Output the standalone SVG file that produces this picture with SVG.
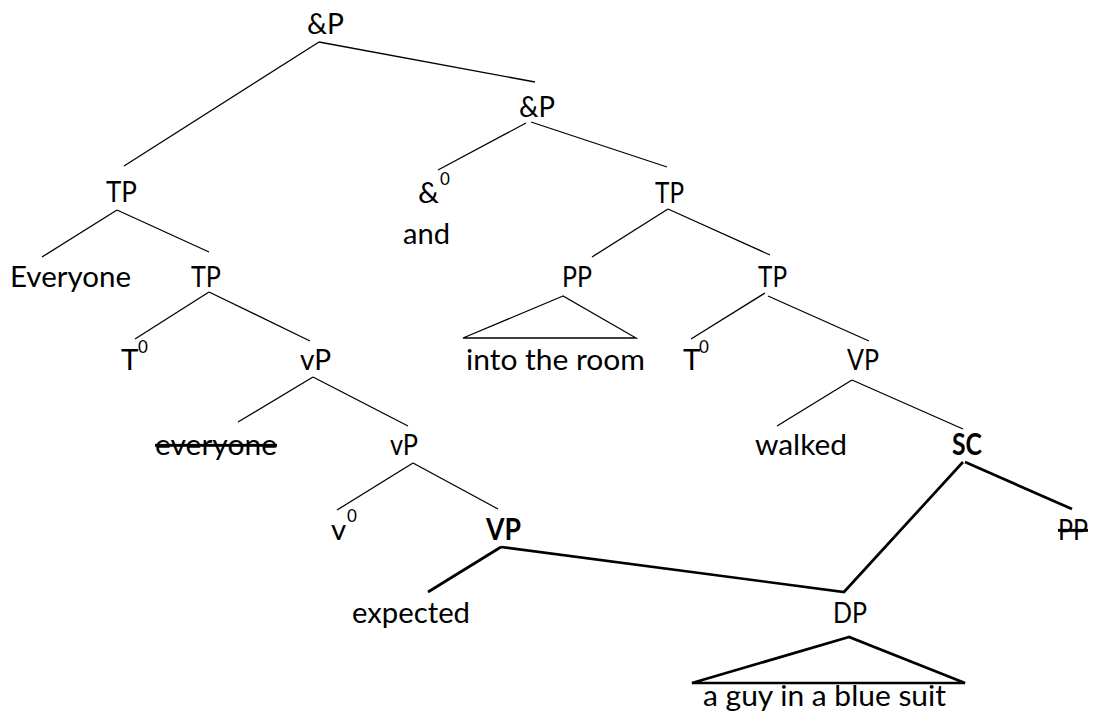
<svg xmlns="http://www.w3.org/2000/svg" width="1094" height="715" viewBox="0 0 1094 715">
<style>
  text { font-family: Lato, "Open Sans", "Liberation Sans", sans-serif; font-size: 29.5px; fill: #000; }
  .b { font-weight: bold; }
  .sup { font-size: 17px; }
  .strike { text-decoration: line-through; }
  .thin { stroke: #000; stroke-width: 1.3; fill: none; stroke-linecap: butt; }
  .thick { stroke: #000; stroke-width: 2.7; fill: none; stroke-linejoin: miter; }
</style>
<rect width="1094" height="715" fill="#fff"/>
<g id="connectors">
  <line class="thin" x1="319" y1="42" x2="124" y2="166"/>
  <line class="thin" x1="319" y1="42" x2="535" y2="82"/>
  <line class="thin" x1="526" y1="123" x2="438" y2="170"/>
  <line class="thin" x1="531" y1="122" x2="667" y2="167"/>
  <line class="thin" x1="117" y1="210" x2="42" y2="257"/>
  <line class="thin" x1="117" y1="210" x2="209" y2="252"/>
  <line class="thin" x1="209" y1="292" x2="135" y2="339"/>
  <line class="thin" x1="209" y1="292" x2="310" y2="341"/>
  <line class="thin" x1="668" y1="209" x2="592" y2="257"/>
  <line class="thin" x1="668" y1="209" x2="770" y2="255"/>
  <polygon class="thin" points="563,296 463,338 636,338"/>
  <line class="thin" x1="765" y1="293" x2="691" y2="339"/>
  <line class="thin" x1="768" y1="296" x2="869" y2="341"/>
  <line class="thin" x1="313" y1="377" x2="238" y2="422"/>
  <line class="thin" x1="313" y1="377" x2="408" y2="426"/>
  <line class="thin" x1="852" y1="380" x2="777" y2="426"/>
  <line class="thin" x1="852" y1="380" x2="963" y2="429"/>
  <line class="thin" x1="413" y1="463" x2="337" y2="510"/>
  <line class="thin" x1="413" y1="463" x2="498" y2="509"/>
  <line class="thick" x1="501" y1="547" x2="428" y2="592"/>
  <polyline class="thick" points="501,547 844,592 963,462"/>
  <line class="thick" x1="965" y1="462" x2="1072" y2="509"/>
  <polygon class="thick" points="849,637 692,683 965,683"/>
</g>
<g id="n-andP1"><text x="307" y="34" textLength="37" lengthAdjust="spacingAndGlyphs">&amp;P</text></g>
<g id="n-andP2"><text x="519" y="117" textLength="36" lengthAdjust="spacingAndGlyphs">&amp;P</text></g>
<g id="n-TP1"><text x="106" y="202" textLength="31" lengthAdjust="spacingAndGlyphs">TP</text></g>
<g id="n-and0"><text x="418" y="203">&amp;<tspan class="sup" x="440" y="185">0</tspan></text></g>
<g id="n-and"><text x="403" y="244" textLength="47" lengthAdjust="spacingAndGlyphs">and</text></g>
<g id="n-TP2"><text x="655" y="203" textLength="29" lengthAdjust="spacingAndGlyphs">TP</text></g>
<g id="n-Everyone"><text x="10" y="287" textLength="121" lengthAdjust="spacingAndGlyphs">Everyone</text></g>
<g id="n-TP3"><text x="191" y="287" textLength="30" lengthAdjust="spacingAndGlyphs">TP</text></g>
<g id="n-PP1"><text x="562" y="287" textLength="30" lengthAdjust="spacingAndGlyphs">PP</text></g>
<g id="n-TP4"><text x="758" y="287" textLength="29" lengthAdjust="spacingAndGlyphs">TP</text></g>
<g id="n-T0a"><text x="121" y="370">T<tspan class="sup" x="138" y="353">0</tspan></text></g>
<g id="n-vP1"><text x="300" y="370" textLength="31" lengthAdjust="spacingAndGlyphs">vP</text></g>
<g id="n-room"><text x="466" y="370" textLength="179" lengthAdjust="spacingAndGlyphs">into the room</text></g>
<g id="n-T0b"><text x="683" y="370">T<tspan class="sup" x="699" y="353">0</tspan></text></g>
<g id="n-VP1"><text x="847" y="370" textLength="32" lengthAdjust="spacingAndGlyphs">VP</text></g>
<g id="n-everyone"><text class="strike" x="155" y="455" textLength="122" lengthAdjust="spacingAndGlyphs">everyone</text></g>
<g id="n-vP2"><text x="390" y="455" textLength="28" lengthAdjust="spacingAndGlyphs">vP</text></g>
<g id="n-walked"><text x="755" y="455" textLength="92" lengthAdjust="spacingAndGlyphs">walked</text></g>
<g id="n-SC"><text class="b" x="952" y="455" textLength="30" lengthAdjust="spacingAndGlyphs">SC</text></g>
<g id="n-v0"><text x="331" y="540">v<tspan class="sup" x="347" y="522">0</tspan></text></g>
<g id="n-VP2"><text class="b" x="486" y="540" textLength="35" lengthAdjust="spacingAndGlyphs">VP</text></g>
<g id="n-PP2"><text class="strike" x="1058" y="540" textLength="30" lengthAdjust="spacingAndGlyphs">PP</text></g>
<g id="n-expected"><text x="352" y="623" textLength="118" lengthAdjust="spacingAndGlyphs">expected</text></g>
<g id="n-DP"><text x="833" y="623" textLength="34" lengthAdjust="spacingAndGlyphs">DP</text></g>
<g id="n-guy"><text x="703" y="706" textLength="243" lengthAdjust="spacingAndGlyphs">a guy in a blue suit</text></g>
</svg>
